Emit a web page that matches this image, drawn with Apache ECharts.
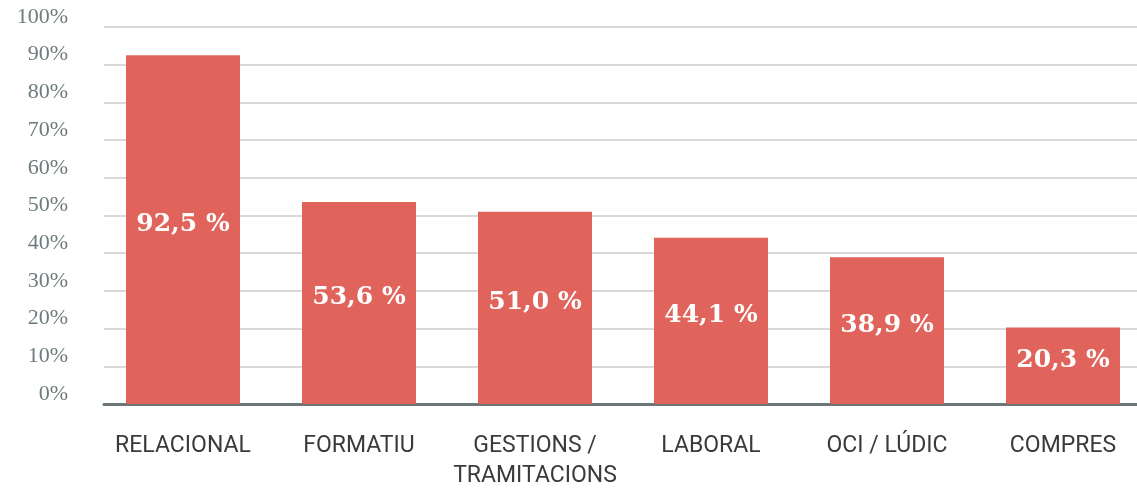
<!DOCTYPE html>
<html>
<head>
<meta charset="utf-8">
<script src="https://cdn.jsdelivr.net/npm/echarts@6/dist/echarts.min.js"></script>
<style>
  html, body { margin: 0; padding: 0; background: #fff; }
  #chart { width: 1137px; height: 490px; }
</style>
</head>
<body>
<div id="chart"></div>
<script>
// categories and values (percent)
const categories = ['RELACIONAL', 'FORMATIU', 'GESTIONS /\nTRAMITACIONS', 'LABORAL', 'OCI / LÚDIC', 'COMPRES'];
const values = [92.5, 53.6, 51.0, 44.1, 38.9, 20.3];
const yTicks = [0, 10, 20, 30, 40, 50, 60, 70, 80, 90, 100];

const chart = echarts.init(document.getElementById('chart'));

const option = {
    animation: false,
    grid: [
        // gridlines + baseline
        { left: 104, right: 0, top: 27, bottom: 86, outerBoundsMode: 'none' },
        // bars (runs a bit past the right edge)
        { left: 95, width: 1056, top: 27, bottom: 86, outerBoundsMode: 'none' }
    ],
    xAxis: [{
        type: 'value',
        gridIndex: 0,
        min: 0,
        max: 1,
        axisLabel: { show: false },
        axisTick: { show: false },
        splitLine: { show: false },
        axisLine: { show: true, lineStyle: { color: '#6c7679', width: 3 } }
    }, {
        type: 'category',
        gridIndex: 1,
        data: categories,
        axisLine: { show: false },
        axisTick: { show: false },
        axisLabel: {
            margin: 27,
            fontFamily: 'Roboto',
            fontSize: 23,
            lineHeight: 30,
            color: '#3a3a3a',
            interval: 0
        }
    }],
    yAxis: [{
        type: 'value',
        gridIndex: 0,
        min: yTicks[0],
        max: yTicks[yTicks.length - 1],
        interval: 10,
        axisLine: { show: false },
        axisTick: { show: false },
        axisLabel: {
            margin: 36,
            verticalAlign: 'bottom',
            lineHeight: 20,
            fontFamily: 'Liberation Serif',
            fontSize: 22,
            color: '#6e7b7c',
            formatter: v => v + '%'
        },
        splitLine: { lineStyle: { color: '#d9d9d9', width: 2 } }
    }, {
        type: 'value',
        gridIndex: 1,
        min: 0,
        max: 100,
        show: false
    }],
    series: [{
        type: 'bar',
        xAxisIndex: 1,
        yAxisIndex: 1,
        data: values,
        barWidth: 114,
        itemStyle: { color: '#e0635c' },
        label: {
            show: true,
            position: 'inside',
            offset: [0, -5],
            color: '#fff',
            fontFamily: 'DejaVu Serif',
            fontWeight: 'bold',
            fontSize: 25,
            formatter: p => p.value.toFixed(1).replace('.', ',') + ' %'
        }
    }]
};

chart.setOption(option);
</script>
</body>
</html>
